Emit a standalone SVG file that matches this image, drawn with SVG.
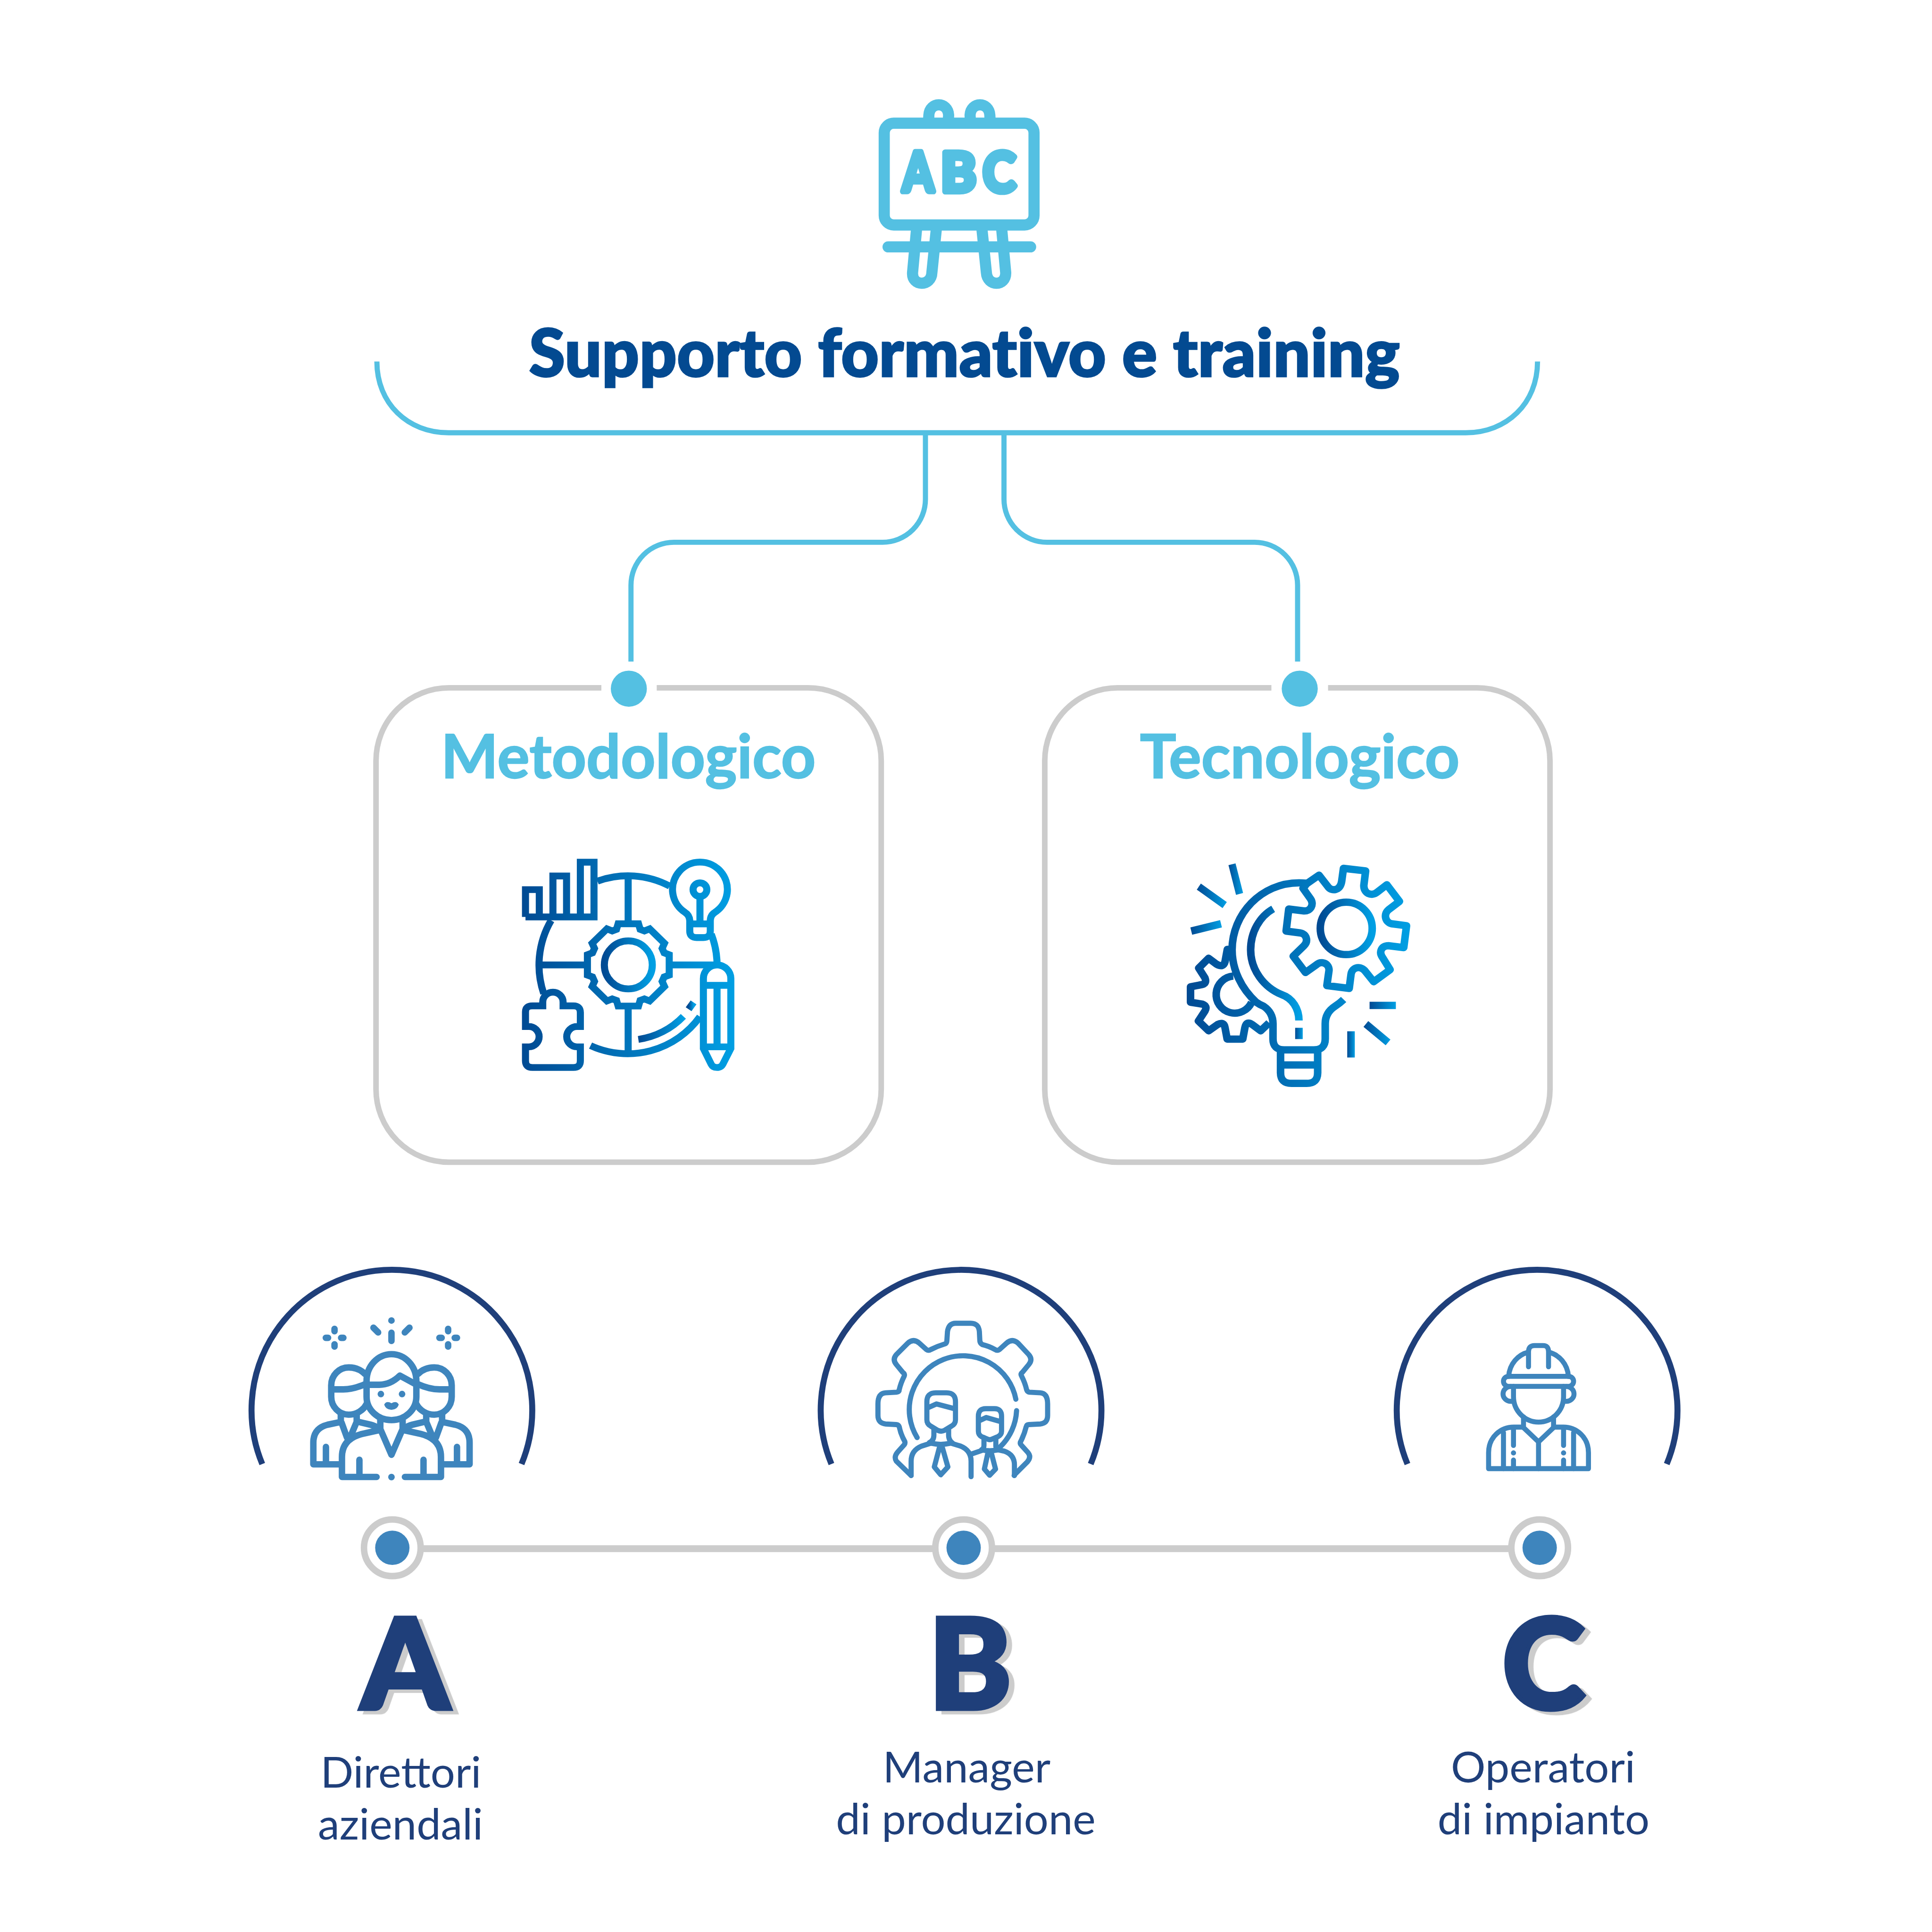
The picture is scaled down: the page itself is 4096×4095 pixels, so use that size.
<svg xmlns="http://www.w3.org/2000/svg" width="4096" height="4095" viewBox="0 0 4096 4095">
<style>
.sky{fill:none;stroke:#54C0E2;stroke-width:12}
.box{fill:none;stroke:#CCCCCC;stroke-width:13}
.tl{fill:none;stroke:#CCCCCC;stroke-width:16}
.arc{fill:none;stroke:#1F3F7A;stroke-width:14}
.ring{fill:#fff;stroke:#CCCCCC;stroke-width:15}
.dotb{fill:#3E85BD}
.dots{fill:#54C0E2}
.easel{fill:none;stroke:#54C0E2;stroke-width:26;stroke-linecap:round;stroke-linejoin:round}
.m{fill:none;stroke:url(#g2);stroke-width:43;stroke-linejoin:miter}
.t{fill:none;stroke:url(#g3);stroke-width:46;stroke-linejoin:round}
.b{fill:none;stroke:#3E85BD;stroke-linecap:round;stroke-linejoin:round}
.txt{font-family:"Lato","Liberation Sans",sans-serif}
.title{font-size:152px;font-weight:900;fill:#034A91;stroke:#034A91;stroke-width:4px;text-anchor:middle;font-variant-ligatures:none;letter-spacing:0.6px}
.sub{font-size:141px;font-weight:700;fill:#54C0E2;stroke:#54C0E2;stroke-width:2.5px;text-anchor:middle}
.big{font-size:292px;font-weight:900;text-anchor:middle;fill:#1F3F7A;stroke:#1F3F7A;stroke-width:10px;filter:drop-shadow(13px 8px 0 #CCCCCC)}
.lab{font-size:101px;font-weight:400;fill:#1F3F7A;text-anchor:middle}
</style>
<defs>
<linearGradient id="g2" gradientUnits="userSpaceOnUse" x1="173" y1="0" x2="1465" y2="0"><stop offset="0" stop-color="#004A93"/><stop offset="1" stop-color="#009FE3"/></linearGradient>
<linearGradient id="g3" gradientUnits="userSpaceOnUse" x1="117" y1="0" x2="1480" y2="0"><stop offset="0" stop-color="#004A93"/><stop offset="1" stop-color="#009FE3"/></linearGradient>
<linearGradient id="gb"><stop offset="0" stop-color="#004A93"/><stop offset="1" stop-color="#009FE3"/></linearGradient>
</defs>
<g transform="scale(0.91002)">
<rect width="4501" height="4500" fill="#fff"/>

<g id="connectors">
<path class="sky" d="M878,842 C878,940 950,1008 1045,1008 H3415 C3510,1008 3582,940 3582,842"/>
<path class="sky" d="M2156,1008 V1163 A100,100 0 0 1 2056,1263 H1570 A100,100 0 0 0 1470,1363 V1541"/>
<path class="sky" d="M2339,1008 V1163 A100,100 0 0 0 2439,1263 H2923 A100,100 0 0 1 3023,1363 V1541"/>
<path class="tl" d="M980,3607 H2178 M2312,3607 H3520"/>
</g>

<g id="icon-easel">
<rect class="easel" x="2060" y="287" width="349" height="237" rx="22" ry="22"/>
<path class="easel" d="M2163,287 L2164,268 C2166,236 2208,236 2210,268 L2209,287"/>
<path class="easel" d="M2261,287 L2260,268 C2262,236 2304,236 2306,268 L2307,287"/>
<path class="easel" d="M2069,575 H2401"/>
<path class="easel" d="M2135,537 L2126,635 C2124,668 2170,668 2171,635 L2181,537"/>
<path class="easel" d="M2288,537 L2298,635 C2300,668 2344,668 2343,635 L2334,537"/>
<g class="txt" fill="#54C0E2" stroke="#54C0E2" stroke-width="14" stroke-linejoin="round" font-size="127" font-weight="700">
<text x="2103" y="446" textLength="72" lengthAdjust="spacingAndGlyphs">A</text>
<text x="2192" y="446" textLength="82" lengthAdjust="spacingAndGlyphs">B</text>
<text x="2290" y="446" textLength="76" lengthAdjust="spacingAndGlyphs">C</text>
</g>
</g>

<g id="title"><text class="txt title" x="2247" y="877">Supporto formativo e training</text></g>

<g id="node-metodologico">
<path class="box" d="M1401,1602 H1046 A170,170 0 0 0 876,1772 V2537 A170,170 0 0 0 1046,2707 H1883 A170,170 0 0 0 2053,2537 V1772 A170,170 0 0 0 1883,1602 H1530"/>
<circle class="dots" cx="1465" cy="1604" r="42"/>
<text class="txt sub" x="1464" y="1812">Metodologico</text>
<g id="icon-metodo" transform="translate(1150,1950) scale(0.3827,0.3699)">
<path class="m" d="M194,502 H611 V157 H528 V502 M444,502 V244 H361 V502 M278,502 V330 H194 V502"/>
<path class="m" d="M632,277 A541,559 0 0 1 1072,308 M350,524 A541,559 0 0 0 305,985 M1325,610 A541,559 0 0 1 1360,790 M1256,1130 A541,559 0 0 1 590,1312"/>
<path class="m" d="M819,245 V545 M819,1063 V1363 M278,804 H571 M1069,804 H1340"/>
<path class="m" d="M882,545 L892,580 L918,590 L950,577 L1040,668 L1026,700 L1038,728 L1069,740 V868 L1038,880 L1026,908 L1040,940 L950,1031 L918,1018 L892,1028 L882,1063 H758 L748,1028 L722,1018 L690,1031 L600,940 L614,908 L602,880 L571,868 V740 L602,728 L614,700 L600,668 L690,577 L722,590 L748,580 L758,545 Z"/>
<ellipse cx="820" cy="804" rx="146" ry="151" fill="none" stroke="url(#gb)" stroke-width="43"/>
<path fill="none" stroke="url(#gb)" stroke-width="43" d="M881,1273 A470,490 0 0 0 1155,1128"/>
<path fill="none" stroke="url(#gb)" stroke-width="43" d="M1187,1083 L1217,1040"/>
<path class="m" d="M1194,525 Q1192,490 1165,473 A167,172 0 1 1 1347,473 Q1320,490 1319,525 V590 Q1319,632 1277,632 H1236 Q1194,632 1194,590 Z M1194,546 H1319 M1256,373 V546"/>
<ellipse cx="1256" cy="330" rx="42" ry="43" fill="none" stroke="url(#g2)" stroke-width="43"/>
<path class="m" d="M1277,1330 V890 A83,85 0 0 1 1444,890 V1330 L1395,1430 Q1385,1450 1360,1450 Q1335,1450 1325,1430 Z M1277,933 H1444 M1277,1320 H1444 M1360,933 V1320"/>
<path class="m" d="M194,1100 Q194,1062 236,1062 H299 V1038 A62,62 0 0 1 423,1038 V1062 H486 Q528,1062 528,1104 V1192 H507 A62,64 0 0 0 507,1320 H528 V1408 Q528,1450 486,1450 H236 Q194,1450 194,1408 V1320 H215 A62,64 0 0 0 215,1192 H194 Z"/>
</g>
</g>

<g id="node-tecnologico">
<path class="box" d="M2962,1602 H2604 A170,170 0 0 0 2434,1772 V2537 A170,170 0 0 0 2604,2707 H3441 A170,170 0 0 0 3611,2537 V1772 A170,170 0 0 0 3441,1602 H3094"/>
<circle class="dots" cx="3028" cy="1604" r="42"/>
<text class="txt sub" x="3028" y="1812">Tecnologico</text>
<g id="icon-tecno" transform="translate(2720,1970) scale(0.3827,0.3699)">
<g fill="url(#gb)">
<polygon points="371,122 414,111 460,297 417,309"/>
<polygon points="203,238 361,354 335,392 178,276"/>
<polygon points="139,514 320,468 331,514 150,560"/>
<rect x="1230" y="982" width="160" height="46"/>
<polygon points="1222,1104 1357,1220 1328,1256 1193,1140"/>
<rect x="1094" y="1168" width="46" height="165"/>
<rect x="777" y="1146" width="46" height="71"/>
</g>
<ellipse cx="1088" cy="520" rx="158" ry="165" fill="none" stroke="url(#gb)" stroke-width="46"/>
<path class="t" d="M848,238 L922,185 L980,262 C1000,285 1050,285 1060,225 L1071,142 L1206,158 L1195,250 C1195,300 1240,320 1275,293 L1335,245 L1412,350 L1345,403 C1310,435 1330,485 1365,491 L1455,503 L1438,641 L1345,629 C1300,630 1285,670 1310,705 L1355,780 L1255,856 L1200,785 C1165,750 1122,770 1117,810 L1106,898 L970,880 L983,785 C985,740 935,720 905,750 L840,798 L765,695 L830,630 C860,600 845,555 810,549 L722,537 L738,398 L830,410 C870,413 895,370 870,333 L825,268 Z"/>
<path class="t" stroke-linecap="butt" d="M845,235 Q820,233 800,233 C570,233 393,430 393,655 C393,780 450,900 540,985 Q560,1000 585,1010 Q642,1050 642,1120 V1215 Q642,1285 710,1285 H890 Q960,1285 960,1215 V1120 Q960,1050 1020,1010 Q1050,990 1072,968"/>
<path class="t" d="M688,1285 V1430 Q688,1496 755,1496 H847 Q914,1496 914,1430 V1285 M688,1380 H914"/>
<path d="M643,397 C560,445 506,545 506,655 C506,780 585,890 695,937 C760,960 800,1025 800,1100" fill="none" stroke="url(#gb)" stroke-width="46"/>
<path class="t" d="M400,820 A113,117 0 1 0 512,985"/>
<path class="t" d="M385,652 H364 L350,730 Q340,770 298,745 L250,708 L190,770 L228,832 Q240,865 213,873 L140,888 V985 L213,997 Q245,1010 228,1040 L188,1103 L250,1165 L305,1125 Q345,1105 350,1145 L363,1217 H458 L471,1145 Q480,1100 515,1125 L567,1165 L618,1115"/>
</g>
</g>

<g id="node-direttori">
<path class="arc" d="M611,3410 A327,327 0 1 1 1215,3410"/>
<g id="icon-direttori" transform="translate(680,3040) scale(0.33333)">
<g class="b" stroke-width="45">
<path d="M298,165 V182 M298,273 V289 M237,228 H253 M344,228 H360 M1092,165 V182 M1092,273 V289 M1031,228 H1047 M1138,228 H1154"/>
<path d="M696,192 V250 M570,157 L603,190 M822,157 L789,190"/>
<path d="M522,640 V530 A174,188 0 0 1 870,530 V640 A174,163 0 0 1 522,640 Z"/>
<path d="M522,556 H610 Q690,556 755,492 L870,555"/>
<path d="M618,800 V870 M774,800 V870 M618,865 L696,1045 L774,865"/>
<path d="M610,873 L490,900 Q350,935 350,1060 V1200 H592 M782,873 L902,900 Q1042,935 1042,1060 V1200 H790 M472,1080 V1200 M920,1080 V1200"/>
<path d="M510,480 C480,450 440,435 397,435 C330,435 275,490 275,560 V640 C275,710 330,765 397,765 C450,765 500,735 522,690 M275,588 H360 Q430,588 510,552"/>
<path d="M342,760 V815 M453,765 V815 M347,820 L385,925 M453,815 L415,905 M330,818 L250,835 Q150,860 150,960 V1112 H330 M238,990 V1112 M465,815 L550,835 Q580,842 605,860"/>
<path d="M882,480 C912,450 952,435 995,435 C1062,435 1117,490 1117,560 V640 C1117,710 1062,765 995,765 C942,765 892,735 870,690 M1117,588 H1032 Q962,588 882,552"/>
<path d="M1050,760 V815 M939,765 V815 M1045,820 L1007,925 M939,815 L977,905 M1062,818 L1142,835 Q1242,860 1242,960 V1112 H1062 M1154,990 V1112 M927,815 L842,835 Q812,842 787,860"/>
</g>
<g fill="#3E85BD">
<circle cx="696" cy="107" r="23"/><circle cx="622" cy="621" r="23"/><circle cx="770" cy="621" r="23"/><circle cx="696" cy="1201" r="23"/>
<path d="M645,695 Q660,665 696,685 Q732,665 747,695 Q735,731 696,731 Q657,731 645,695 Z"/>
</g>
</g>
<circle class="ring" cx="914" cy="3605" r="66"/><circle class="dotb" cx="914" cy="3605" r="40"/>
<text class="txt big" x="944" y="3980">A</text>
<text class="txt lab" x="934" y="4164">Direttori</text>
<text class="txt lab" x="933" y="4284">aziendali</text>
</g>

<g id="node-manager">
<path class="arc" d="M1937,3410 A327,327 0 1 1 2541,3410"/>
<g id="icon-manager" transform="translate(2000,3040) scale(0.33333)">
<g class="b" stroke-width="36">
<path d="M368,1190 L265,1090 Q245,1060 275,1025 L320,975 Q330,960 320,945 Q295,900 285,850 Q280,835 265,834 L190,830 Q136,825 136,770 V690 Q136,615 190,612 L265,608 Q285,605 285,590 Q295,545 320,495 Q325,480 310,470 L265,415 Q235,380 265,345 L345,265 Q385,230 425,265 L475,310 Q490,320 505,310 Q555,285 605,270 Q618,265 618,245 L622,185 Q630,126 680,126 H785 Q840,126 845,185 L848,245 Q848,265 865,275 Q910,285 955,310 Q970,320 985,310 L1035,265 Q1075,230 1115,265 L1190,345 Q1220,380 1190,415 L1145,470 Q1130,480 1140,495 Q1165,545 1175,590 Q1180,605 1195,608 L1270,612 Q1322,615 1322,690 V770 Q1322,825 1270,830 L1190,834 Q1175,835 1172,850 Q1160,900 1135,950 Q1125,965 1140,980 L1185,1030 Q1210,1060 1180,1095 L1100,1175 Q1090,1185 1088,1190"/>
<path d="M410,925 A376,376 0 1 1 1100,657 M1105,737 A376,376 0 0 1 990,990"/>
<path d="M478,675 Q478,612 540,612 H615 Q678,612 678,675 V800 Q678,830 650,845 L600,875 Q578,885 555,875 L505,845 Q478,830 478,800 Z M478,720 L545,690 L678,725"/>
<path d="M527,860 V910 Q527,945 495,960 M630,860 V910 Q630,945 660,965 M512,962 L440,985 Q368,1015 368,1090 V1190 M640,962 L715,985 Q787,1015 787,1090 V1198 M510,965 Q575,980 640,965 M567,990 L530,1130 L575,1185 L625,1130 L585,990"/>
<path d="M838,775 Q838,723 890,723 H950 Q1000,723 1000,775 V880 Q1000,905 975,918 L935,935 Q918,945 900,935 L860,918 Q838,905 838,880 Z M838,810 L893,785 L1000,815"/>
<path d="M877,925 V980 Q877,1005 860,1010 M960,925 V985 Q960,1005 980,1010 M862,1015 L790,1040 M975,1010 L1020,1020 Q1090,1045 1090,1115 V1190 M865,1012 Q918,1022 970,1012 M905,1030 L880,1145 L917,1188 L958,1145 L928,1030"/>
</g>
</g>
<circle class="ring" cx="2245" cy="3605" r="66"/><circle class="dotb" cx="2245" cy="3605" r="40"/>
<text class="txt big" x="2260" y="3980">B</text>
<text class="txt lab" x="2252" y="4152">Manager</text>
<text class="txt lab" x="2250" y="4272">di produzione</text>
</g>

<g id="node-operatori">
<path class="arc" d="M3279,3410 A327,327 0 1 1 3883,3410"/>
<g id="icon-operatori" transform="translate(3400,3080) scale(0.33333)">
<g class="b" stroke-width="35">
<path d="M344,378 C350,290 410,225 483,208 M762,378 C756,290 696,225 623,208 M483,310 V205 Q483,162 525,162 H585 Q623,162 623,205 V310"/>
<rect x="308" y="377" width="490" height="70" rx="35" ry="35"/>
<path d="M378,447 V520 A175,177 0 0 0 728,520 V447 M360,448 A55,52 0 0 0 360,552 M746,448 A55,52 0 0 1 746,552"/>
<path d="M448,660 V735 M658,660 V735 M448,735 L553,835 L658,735 M553,835 V1022"/>
<path d="M448,732 H380 C290,732 204,800 204,910 V1022 H902 V910 C902,800 816,732 726,732 H658"/>
<path d="M308,770 V1022 M798,770 V1022 M378,735 V860 M378,962 V1022 M728,735 V860 M728,962 V1022"/>
</g>
<g fill="#3E85BD"><circle cx="378" cy="912" r="18"/><circle cx="728" cy="912" r="18"/></g>
</g>
<circle class="ring" cx="3587" cy="3605" r="66"/><circle class="dotb" cx="3587" cy="3605" r="40"/>
<text class="txt big" x="3596" y="3980">C</text>
<text class="txt lab" x="3595" y="4152">Operatori</text>
<text class="txt lab" x="3596" y="4272">di impianto</text>
</g>
</g>
</svg>
